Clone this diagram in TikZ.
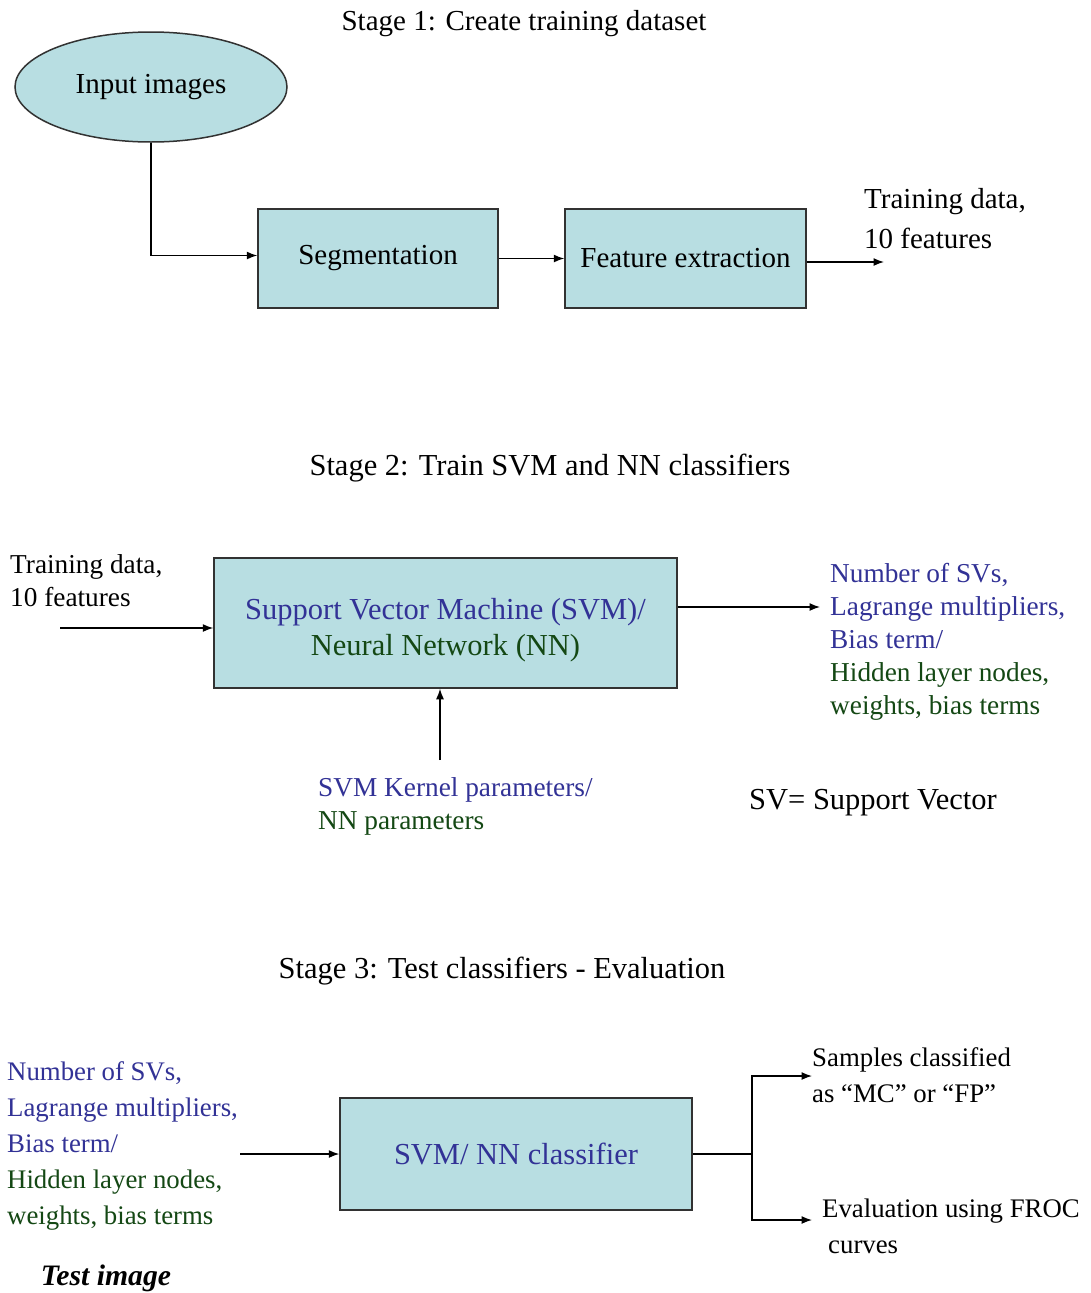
\documentclass[tikz,border=0pt]{standalone}
\usepackage{fontspec}
\setmainfont{Liberation Serif}
\usetikzlibrary{arrows.meta,shapes.geometric}
\definecolor{boxfill}{RGB}{184,222,226}
\definecolor{boxline}{RGB}{50,50,50}
\definecolor{tblue}{RGB}{50,50,150}
\definecolor{tgreen}{RGB}{20,72,20}
\newcommand{\fsA}{\fontsize{29}{40}\selectfont}
\newcommand{\fsB}{\fontsize{30.5}{36}\selectfont}
\newcommand{\fsC}{\fontsize{27.3}{33}\selectfont}
\newcommand{\fsD}{\fontsize{26.8}{36}\selectfont}
\tikzset{
  box/.style={draw=boxline,line width=1.5pt,fill=boxfill,inner sep=0pt},
  txt/.style={inner sep=0pt,align=left,anchor=west},
  arr/.style={line width=1.3pt,draw=black,-{Latex[length=10.5pt,width=8pt]}},
}
\begin{document}
\begin{tikzpicture}[x=1pt,y=-1pt]
\useasboundingbox[fill=white] (0,0) rectangle (1091,1293);
% ---------- Stage 1 ----------
\node[inner sep=0pt,font=\fsA] (t1) at (524,24) {Stage 1: Create training dataset};
\node[box,ellipse,minimum width=272pt,minimum height=110pt,font=\fsA] (inp) at (151,87) {Input images};
\node[box,minimum width=240pt,minimum height=99pt,font=\fsA] (seg) at (378,258.5) {Segmentation};
\node[box,minimum width=241pt,minimum height=99pt,font=\fsA] (feat) at (685.5,258.5) {Feature extraction};
\node[txt,font=\fsA] (td1) at (864,219) {Training data,\\10 features};
\coordinate (out1) at (884,262);
\draw[arr] (inp.south) |- ([yshift=3pt]seg.west);
\draw[arr] (seg.east) -- (feat.west);
\draw[arr] (feat.east |- out1) -- (out1);
% ---------- Stage 2 ----------
\node[inner sep=0pt,font=\fsB] (t2) at (550,468) {Stage 2: Train SVM and NN classifiers};
\node[box,minimum width=463pt,minimum height=130pt,align=center,font=\fsB] (svm) at (445.5,623)
  {\color{tblue}\rule{0pt}{35pt}Support Vector Machine (SVM)/\\\color{tgreen}Neural Network (NN)};
\node[txt,font=\fsC] (td2) at (10,580.5) {Training data,\\10 features};
\node[txt,font=\fsC] (res2) at (830,642) {\color{tblue}Number of SVs,\\\color{tblue}Lagrange multipliers,\\\color{tblue}Bias term/\\\color{tgreen}Hidden layer nodes,\\\color{tgreen}weights, bias terms};
\node[txt,font=\fsC] (kp) at (318,806) {\color{tblue}SVM Kernel parameters/\\\color{tgreen}NN parameters};
\node[inner sep=0pt,anchor=west,font=\fsB] (sv) at (749,803) {SV= Support Vector};
\coordinate (in2) at (60,628);
\coordinate (out2) at (820,607);
\coordinate (kin) at (440,760);
\draw[arr] (in2) -- (in2 -| svm.west);
\draw[arr] (svm.east |- out2) -- (out2);
\draw[arr] (kin) -- (kin |- svm.south);
% ---------- Stage 3 ----------
\node[inner sep=0pt,font=\fsB] (t3) at (502,971) {Stage 3: Test classifiers - Evaluation};
\node[txt,font=\fsD] (par3) at (7,1146) {\color{tblue}Number of SVs,\\\color{tblue}Lagrange multipliers,\\\color{tblue}Bias term/\\\color{tgreen}Hidden layer nodes,\\\color{tgreen}weights, bias terms};
\node[inner sep=0pt,font={\fontsize{29.7}{34}\selectfont\bfseries\itshape}] (ti) at (106,1278) {Test image};
\node[box,minimum width=352pt,minimum height=112pt,font=\fsB] (cls) at (516,1154) {\color{tblue}SVM/ NN classifier};
\node[txt,font=\fsD] (smp) at (812,1075) {Samples classified\\as ``MC'' or ``FP''};
\node[txt,font=\fsD] (ev) at (822,1226) {Evaluation using FROC\\\hspace*{6pt}curves};
\coordinate (in3) at (240,1154);
\coordinate (j) at (752,1154);
\coordinate (o1) at (812,1076);
\coordinate (o2) at (812,1220);
\draw[arr] (in3) -- (in3 -| cls.west);
\draw[arr] (cls.east) -- (j) |- (o1);
\draw[arr] (j) |- (o2);
\end{tikzpicture}
\end{document}
